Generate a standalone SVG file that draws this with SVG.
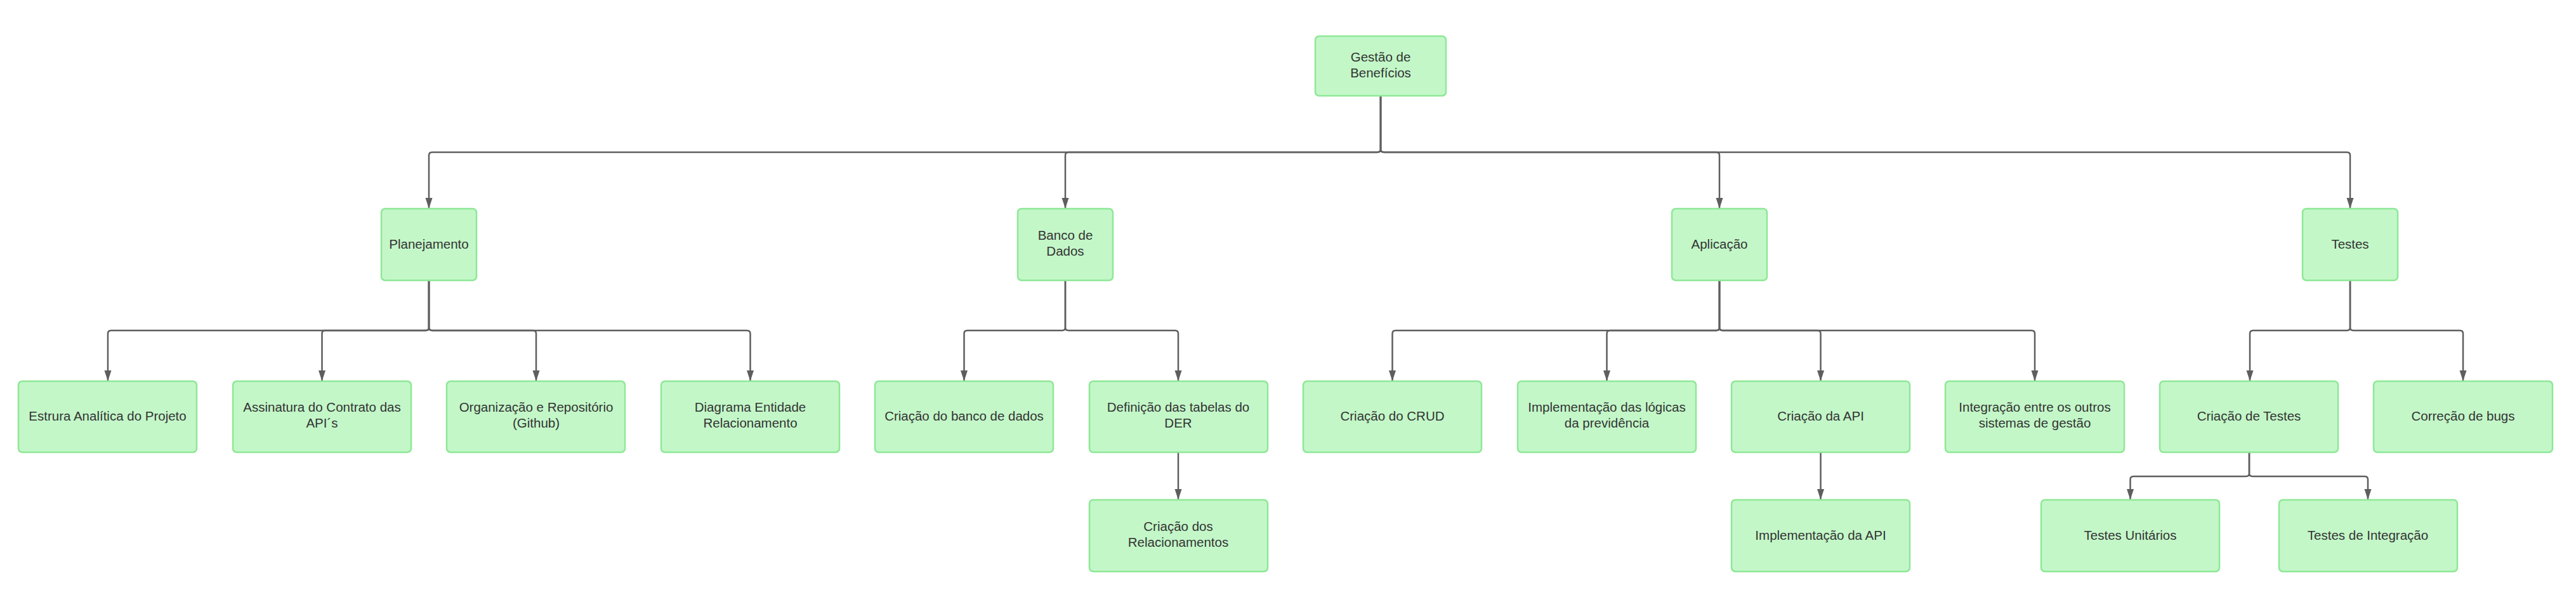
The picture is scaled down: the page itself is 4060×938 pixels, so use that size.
<svg xmlns="http://www.w3.org/2000/svg" width="4060" height="938" viewBox="0 0 4060 938">
<style>
.n rect{fill:#c3f7c8;stroke:#8ee897;stroke-width:2.5}
.n text{font-family:"Liberation Sans",Arial,sans-serif;font-size:20.5px;fill:#333333;text-anchor:middle}
.c path{fill:none;stroke:#5e5e5e;stroke-width:2.5}
</style>
<defs>
<marker id="a" markerUnits="userSpaceOnUse" markerWidth="17" markerHeight="12" refX="17" refY="6" orient="auto" viewBox="0 0 17 12">
<path d="M0,0.5 L17,6 L0,11.5 Z" fill="#5e5e5e"/>
</marker>
</defs>
<rect width="4060" height="938" fill="#ffffff"/>
<g class="c" id="connectors">
<path marker-end="url(#a)" d="M2176,151 V235 Q2176,240 2171,240 H681 Q676,240 676,245 V329"/>
<path marker-end="url(#a)" d="M2176,151 V235 Q2176,240 2171,240 H1684 Q1679,240 1679,245 V329"/>
<path marker-end="url(#a)" d="M2176,151 V235 Q2176,240 2181,240 H2705 Q2710,240 2710,245 V329"/>
<path marker-end="url(#a)" d="M2176,151 V235 Q2176,240 2181,240 H3699 Q3704,240 3704,245 V329"/>
<path marker-end="url(#a)" d="M676,442 V516 Q676,521 671,521 H175 Q170,521 170,526 V601"/>
<path marker-end="url(#a)" d="M676,442 V516 Q676,521 671,521 H512 Q507.5,521 507.5,526 V601"/>
<path marker-end="url(#a)" d="M676,442 V516 Q676,521 681,521 H840 Q845,521 845,526 V601"/>
<path marker-end="url(#a)" d="M676,442 V516 Q676,521 681,521 H1177 Q1182.5,521 1182.5,526 V601"/>
<path marker-end="url(#a)" d="M1679,442 V516 Q1679,521 1674,521 H1524.5 Q1519.5,521 1519.5,526 V601"/>
<path marker-end="url(#a)" d="M1679,442 V516 Q1679,521 1684,521 H1852 Q1857,521 1857,526 V601"/>
<path marker-end="url(#a)" d="M1857,713 V788"/>
<path marker-end="url(#a)" d="M2710,442 V516 Q2710,521 2705,521 H2199.5 Q2194.5,521 2194.5,526 V601"/>
<path marker-end="url(#a)" d="M2710,442 V516 Q2710,521 2705,521 H2537.5 Q2532.5,521 2532.5,526 V601"/>
<path marker-end="url(#a)" d="M2710,442 V516 Q2710,521 2715,521 H2864.5 Q2869.5,521 2869.5,526 V601"/>
<path marker-end="url(#a)" d="M2710,442 V516 Q2710,521 2715,521 H3202 Q3207,521 3207,526 V601"/>
<path marker-end="url(#a)" d="M2869.5,713 V788"/>
<path marker-end="url(#a)" d="M3704,442 V516 Q3704,521 3699,521 H3551 Q3546,521 3546,526 V601"/>
<path marker-end="url(#a)" d="M3704,442 V516 Q3704,521 3709,521 H3877 Q3882,521 3882,526 V601"/>
<path marker-end="url(#a)" d="M3545,713 V746 Q3545,751 3540,751 H3362.5 Q3357.5,751 3357.5,756 V788"/>
<path marker-end="url(#a)" d="M3545,713 V746 Q3545,751 3550,751 H3727 Q3732,751 3732,756 V788"/>
</g>
<g class="n" id="gestao"><rect x="2073" y="57" width="206" height="94" rx="6"/><text x="2176" y="97">Gestão de</text><text x="2176" y="122">Benefícios</text></g>
<g class="n" id="planejamento"><rect x="601" y="329" width="150" height="113" rx="6"/><text x="676" y="392">Planejamento</text></g>
<g class="n" id="banco"><rect x="1604" y="329" width="150" height="113" rx="6"/><text x="1679" y="378">Banco de</text><text x="1679" y="403">Dados</text></g>
<g class="n" id="aplicacao"><rect x="2635" y="329" width="150" height="113" rx="6"/><text x="2710" y="392">Aplicação</text></g>
<g class="n" id="testes"><rect x="3629" y="329" width="150" height="113" rx="6"/><text x="3704" y="392">Testes</text></g>
<g class="n" id="estrura"><rect x="29" y="601" width="281" height="112" rx="6"/><text x="169.5" y="663">Estrura Analítica do Projeto</text></g>
<g class="n" id="assinatura"><rect x="367" y="601" width="281" height="112" rx="6"/><text x="507.5" y="649">Assinatura do Contrato das</text><text x="507.5" y="674">API´s</text></g>
<g class="n" id="organizacao"><rect x="704" y="601" width="281" height="112" rx="6"/><text x="845" y="649">Organização e Repositório</text><text x="845" y="674">(Github)</text></g>
<g class="n" id="diagrama"><rect x="1042" y="601" width="281" height="112" rx="6"/><text x="1182.5" y="649">Diagrama Entidade</text><text x="1182.5" y="674">Relacionamento</text></g>
<g class="n" id="criacao-banco"><rect x="1379" y="601" width="281" height="112" rx="6"/><text x="1519.5" y="663">Criação do banco de dados</text></g>
<g class="n" id="definicao"><rect x="1717" y="601" width="281" height="112" rx="6"/><text x="1857" y="649">Definição das tabelas do</text><text x="1857" y="674">DER</text></g>
<g class="n" id="relacionamentos"><rect x="1717" y="788" width="281" height="113" rx="6"/><text x="1857" y="837">Criação dos</text><text x="1857" y="862">Relacionamentos</text></g>
<g class="n" id="crud"><rect x="2054" y="601" width="281" height="112" rx="6"/><text x="2194.5" y="663">Criação do CRUD</text></g>
<g class="n" id="logicas"><rect x="2392" y="601" width="281" height="112" rx="6"/><text x="2532.5" y="649">Implementação das lógicas</text><text x="2532.5" y="674">da previdência</text></g>
<g class="n" id="criacao-api"><rect x="2729" y="601" width="281" height="112" rx="6"/><text x="2869.5" y="663">Criação da API</text></g>
<g class="n" id="impl-api"><rect x="2729" y="788" width="281" height="113" rx="6"/><text x="2869.5" y="851">Implementação da API</text></g>
<g class="n" id="integracao"><rect x="3066" y="601" width="282" height="112" rx="6"/><text x="3207" y="649">Integração entre os outros</text><text x="3207" y="674">sistemas de gestão</text></g>
<g class="n" id="criacao-testes"><rect x="3404" y="601" width="281" height="112" rx="6"/><text x="3544.5" y="663">Criação de Testes</text></g>
<g class="n" id="correcao"><rect x="3741" y="601" width="282" height="112" rx="6"/><text x="3882" y="663">Correção de bugs</text></g>
<g class="n" id="unitarios"><rect x="3217" y="788" width="281" height="113" rx="6"/><text x="3357.5" y="851">Testes Unitários</text></g>
<g class="n" id="integracao-testes"><rect x="3592" y="788" width="281" height="113" rx="6"/><text x="3732" y="851">Testes de Integração</text></g>
</svg>
